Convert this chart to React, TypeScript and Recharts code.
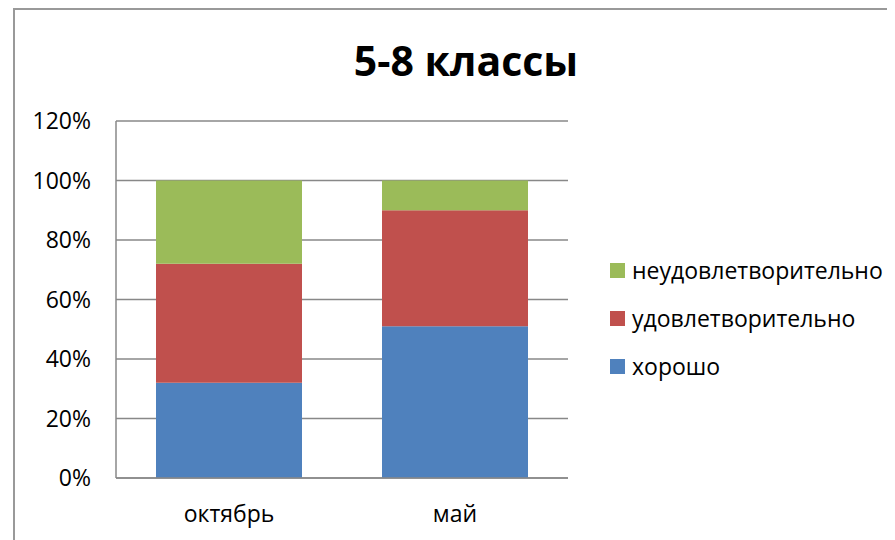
import React from 'react';
import { BarChart, Bar, XAxis, YAxis, CartesianGrid, Legend } from 'recharts';

const categories = ['октябрь', 'май'];
const good = [32, 51];
const satisfactory = [40, 39];
const unsatisfactory = [28, 10];
const yTicks = [0, 20, 40, 60, 80, 100, 120];
const seriesNames = ['хорошо', 'удовлетворительно', 'неудовлетворительно'];
const title = '5-8 классы';

const data = categories.map((c, i) => ({
  name: c,
  good: good[i],
  satisfactory: satisfactory[i],
  unsatisfactory: unsatisfactory[i],
}));

const FONT = "'Open Sans', sans-serif";

const LegendContent = (props: any) => {
  const items = [...(props.payload || [])].sort(
    (a: any, b: any) => seriesNames.indexOf(b.value) - seriesNames.indexOf(a.value)
  );
  return (
    <div style={{ fontFamily: FONT, fontSize: 23, color: '#000' }}>
      {items.map((it: any) => (
        <div key={it.value} style={{ display: 'flex', alignItems: 'center', height: 48 }}>
          <div style={{ width: 15, height: 15, background: it.color, marginRight: 7 }} />
          <span>{it.value}</span>
        </div>
      ))}
    </div>
  );
};

export default function App() {
  return (
    <div style={{ position: 'relative', width: 887, height: 532, overflow: 'hidden', background: '#fff' }}>
      <div
        style={{
          position: 'absolute',
          left: 5,
          top: 0,
          width: 2000,
          height: 2000,
          borderLeft: '2px solid #999',
          borderTop: '2px solid #999',
        }}
      />
      <BarChart
        width={887}
        height={532}
        data={data}
        margin={{ top: 113, right: 327, left: 0, bottom: 32 }}
        barCategoryGap="17.7%"
        style={{ fontFamily: FONT }}
      >
        <CartesianGrid vertical={false} stroke="#888" strokeWidth={1.5} />
        <XAxis
          dataKey="name"
          axisLine={{ stroke: '#888', strokeWidth: 1.5 }}
          tickLine={false}
          tickSize={0}
          tickMargin={28}
          height={30}
          tick={{ fill: '#000', fontSize: 23, fontFamily: FONT }}
        />
        <YAxis
          width={108}
          domain={[0, 120]}
          ticks={yTicks}
          tickFormatter={(v: number) => `${v}%`}
          axisLine={{ stroke: '#888', strokeWidth: 1.5 }}
          tickLine={false}
          tickSize={0}
          tickMargin={25}
          tick={{ fill: '#000', fontSize: 23, fontFamily: FONT }}
        />
        <Legend
          layout="horizontal"
          verticalAlign="middle"
          align="center"
          content={<LegendContent />}
          wrapperStyle={{ left: 602, top: 238, width: 285 }}
        />
        <Bar dataKey="good" name={seriesNames[0]} stackId="a" fill="#4F81BD" isAnimationActive={false} />
        <Bar dataKey="satisfactory" name={seriesNames[1]} stackId="a" fill="#C0504D" isAnimationActive={false} />
        <Bar dataKey="unsatisfactory" name={seriesNames[2]} stackId="a" fill="#9BBB59" isAnimationActive={false} />
      </BarChart>
      <svg width={887} height={532} style={{ position: 'absolute', left: 0, top: 0, pointerEvents: 'none' }}>
        <text x={458} y={68} textAnchor="middle" fontFamily={FONT} fontWeight="bold" fontSize={41} fill="#000">
          {title}
        </text>
      </svg>
    </div>
  );
}
